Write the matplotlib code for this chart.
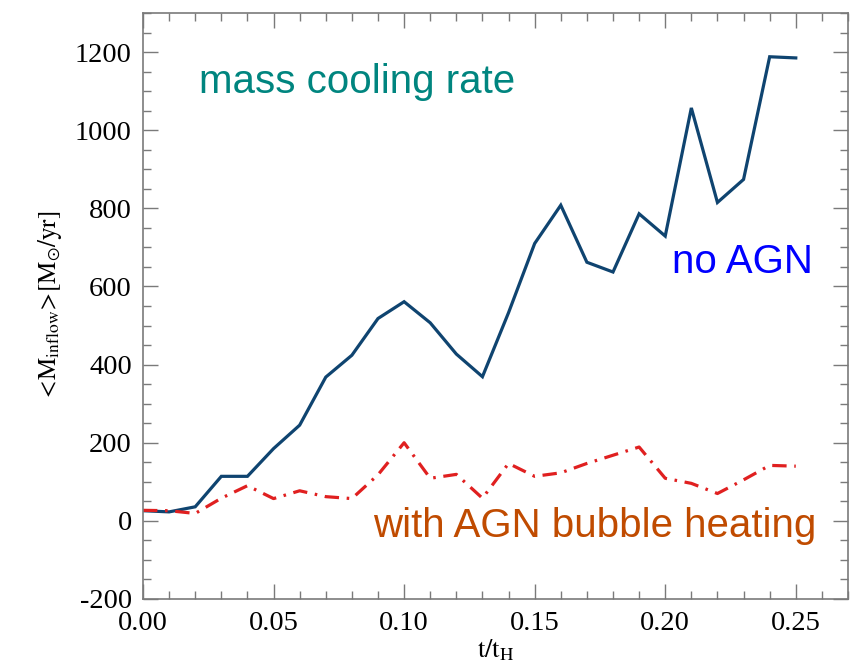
import matplotlib
matplotlib.use("Agg")
import matplotlib.pyplot as plt
from matplotlib.ticker import MultipleLocator

plt.rcParams["mathtext.fontset"] = "stix"
plt.rcParams["axes.unicode_minus"] = False

# time in units of the Hubble time
t = [0.00, 0.01, 0.02, 0.03, 0.04, 0.05, 0.06, 0.07, 0.08, 0.09,
     0.10, 0.11, 0.12, 0.13, 0.14, 0.15, 0.16, 0.17, 0.18, 0.19,
     0.20, 0.21, 0.22, 0.23, 0.24, 0.25]

# mean inflow rate without AGN feedback (Msun/yr)
no_agn = [26, 23, 36, 114, 114, 185, 245, 368, 424, 518,
          561, 507, 427, 369, 533, 710, 808, 662, 637, 786,
          729, 1057, 815, 874, 1188, 1185]

# mean inflow rate with AGN bubble heating (Msun/yr)
with_agn = [27, 26, 19, 58, 90, 57, 77, 62, 57, 118,
            200, 109, 119, 58, 147, 114, 123, 147, 168, 189,
            109, 96, 70, 105, 142, 140]

fig = plt.figure(figsize=(8.51, 6.66), dpi=100)
ax = fig.add_axes([143 / 851, 1 - 599 / 666, 705 / 851, 586 / 666])

ax.plot(t, no_agn, color="#0f4470", lw=2.3, solid_joinstyle="miter")
ax.plot(t, with_agn, color="#e02020", lw=2.3, dashes=(4.5, 2.4, 0.8, 2.4))

ax.set_xlim(0, 0.27)
ax.set_ylim(-200, 1300)

ax.xaxis.set_major_locator(MultipleLocator(0.05))
ax.xaxis.set_minor_locator(MultipleLocator(0.01))
ax.yaxis.set_major_locator(MultipleLocator(200))
ax.yaxis.set_minor_locator(MultipleLocator(50))
ax.xaxis.set_major_formatter(lambda v, p: f"{v:.2f}")

gray = "#7a7a7a"
for s in ax.spines.values():
    s.set_color(gray)
    s.set_linewidth(1.2)
ax.tick_params(which="both", direction="in", top=True, right=True,
               color=gray, width=1.0)
ax.tick_params(which="major", length=11)
ax.tick_params(which="minor", length=5.5)
ax.tick_params(axis="y", pad=8)
ax.tick_params(axis="x", pad=9)
for lab in ax.get_xticklabels() + ax.get_yticklabels():
    lab.set_family("Liberation Serif")
    lab.set_fontsize(20.5)

ax.set_xlabel(r"$\mathrm{t/t_H}$", fontsize=19, labelpad=1)
ax.set_ylabel(r"$<\!\mathrm{M}_{\mathrm{inflow}}\!>\![\mathrm{M}_{\odot}/\mathrm{yr}]$",
              fontsize=18, labelpad=8)

sans = "Liberation Sans"
ax.text(0.0794, 0.8635, "mass cooling rate", transform=ax.transAxes,
        color="#00857f", fontsize=29, family=sans, va="baseline")
ax.text(0.750, 0.556, "no AGN", transform=ax.transAxes,
        color="#0000ff", fontsize=29, family=sans, va="baseline")
ax.text(0.326, 0.106, "with AGN bubble heating", transform=ax.transAxes,
        color="#c04b00", fontsize=29, family=sans, va="baseline")

fig.savefig("out.png", dpi=100)
